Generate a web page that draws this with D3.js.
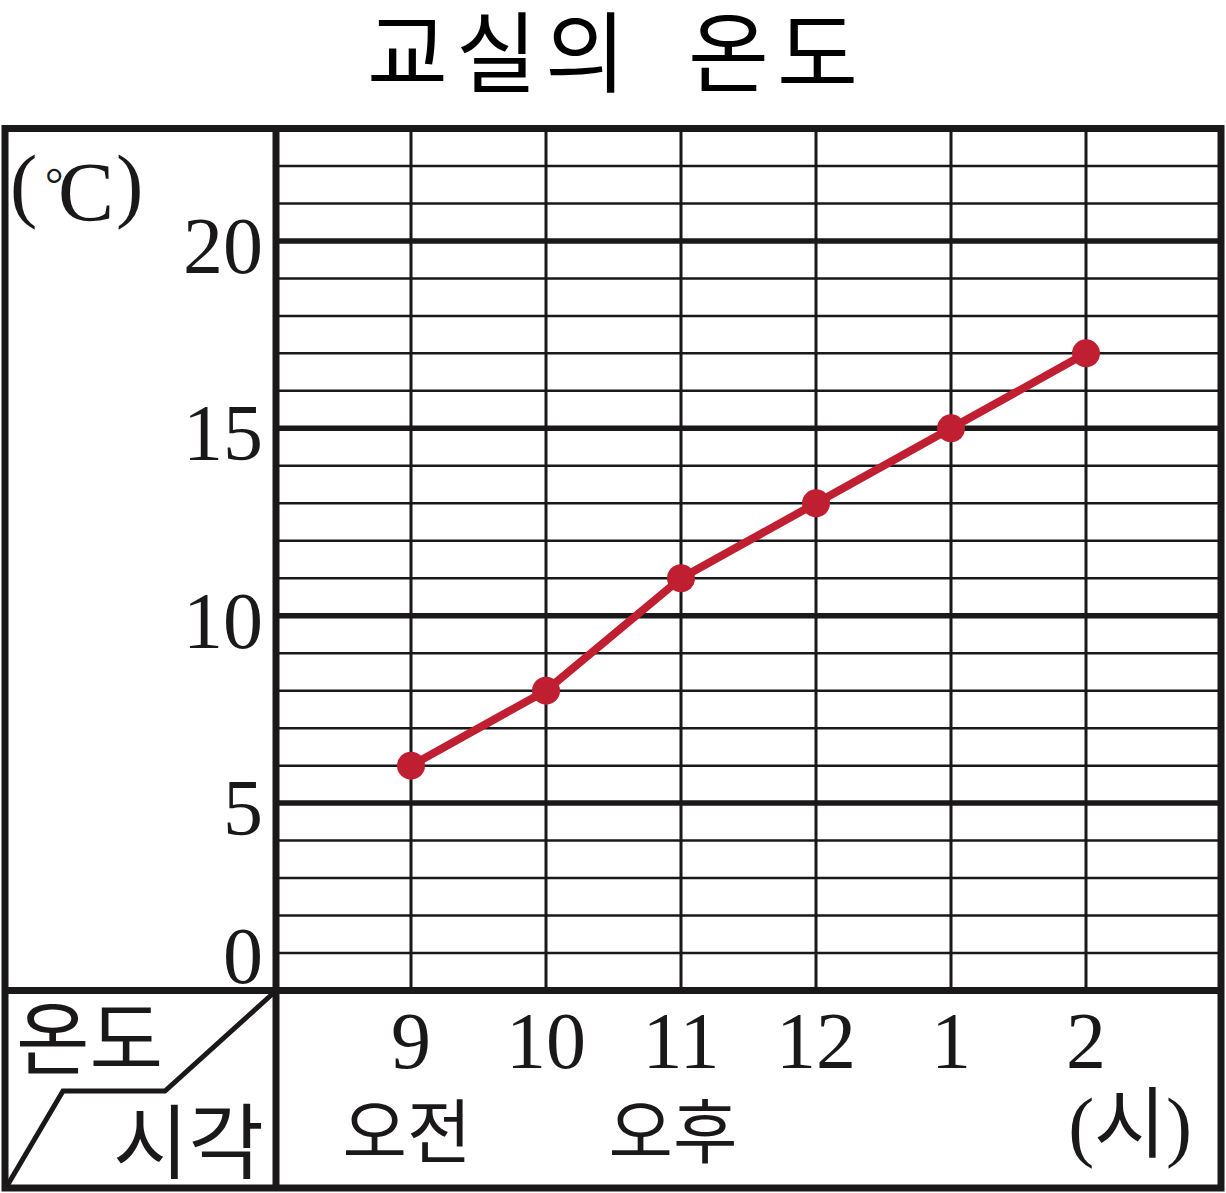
<!DOCTYPE html>
<html>
<head>
<meta charset="utf-8">
<script src="https://cdn.jsdelivr.net/npm/d3@7"></script>
<style>
  html, body { margin: 0; padding: 0; background: #fff; }
  svg { display: block; }
</style>
</head>
<body>
<svg id="chart" width="1226" height="1193"></svg>
<script>
// ---- data ----
const titleWords = ["교실의", "온도"];
const hours = ["9", "10", "11", "12", "1", "2"];
const temps = [6, 8, 11, 13, 15, 17];
const yTicks = [0, 5, 10, 15, 20];
const xUnit = "(시)";
const periodLabels = [
  { label: "오전", at: "9" },
  { label: "오후", at: "11" }
];
const cornerTop = "온도";
const cornerBottom = "시각";

// ---- layout ----
const box = { left: 5, right: 1221, top: 128.5, bottom: 1188 };
const divX = 276, divY = 990.5;
const svg = d3.select("#chart");
const ink = "#1a1818";
const red = "#c01f31";
const serif = "'Liberation Serif', 'DejaVu Serif', serif";
const kr = "'Noto Sans CJK KR', 'Noto Sans CJK SC', sans-serif";

const x = d3.scalePoint().domain(hours).range([411, 1086]);
const y = d3.scaleLinear().domain([0, 23]).range([divY, box.top]);

// horizontal grid lines
const hLines = d3.range(1, 23);
svg.append("g").selectAll("line").data(hLines).join("line")
  .attr("x1", divX).attr("x2", box.right)
  .attr("y1", d => y(d)).attr("y2", d => y(d))
  .attr("stroke", ink)
  .attr("stroke-width", d => d % 5 === 0 ? 5.5 : 2.5);

// vertical grid lines
svg.append("g").selectAll("line").data(hours).join("line")
  .attr("x1", d => x(d)).attr("x2", d => x(d))
  .attr("y1", box.top).attr("y2", divY)
  .attr("stroke", ink).attr("stroke-width", 3);

// frame
const frame = svg.append("g").attr("stroke", ink).attr("stroke-width", 7).attr("fill", "none");
frame.append("rect")
  .attr("x", box.left).attr("y", box.top)
  .attr("width", box.right - box.left).attr("height", box.bottom - box.top);
frame.append("line").attr("x1", divX).attr("x2", divX).attr("y1", box.top).attr("y2", box.bottom);
frame.append("line").attr("x1", box.left).attr("x2", box.right).attr("y1", divY).attr("y2", divY);

// corner diagonal
svg.append("path")
  .attr("d", d3.line()([[divX - 2, divY + 2], [165, 1091], [63, 1091], [7, 1186]]))
  .attr("fill", "none").attr("stroke", ink).attr("stroke-width", 5)
  .attr("stroke-linejoin", "miter");

// y tick labels
svg.append("g").selectAll("text").data(yTicks).join("text")
  .attr("x", 263)
  .attr("y", d => Math.min(y(d) + 32, 983))
  .attr("text-anchor", "end")
  .attr("font-family", serif).attr("font-size", 80).attr("fill", ink)
  .text(d => d);

// y unit  (℃) as one text element
const yu = svg.append("text").attr("font-family", serif).attr("fill", ink)
  .attr("x", 10).attr("y", 212).attr("font-size", 82);
yu.append("tspan").text("(");
yu.append("tspan").attr("x", 45).attr("y", 200).attr("font-size", 46).text("°");
yu.append("tspan").attr("x", 58).attr("y", 221).attr("font-size", 84).text("C");
yu.append("tspan").attr("x", 116).attr("y", 212).text(")");

// x tick labels
svg.append("g").selectAll("text").data(hours).join("text")
  .attr("x", d => x(d)).attr("y", 1068)
  .attr("text-anchor", "middle")
  .attr("font-family", serif).attr("font-size", 80).attr("fill", ink)
  .text(d => d);

// period labels
svg.append("g").selectAll("text").data(periodLabels).join("text")
  .attr("x", d => x(d.at) - (d.at === "9" ? 4 : 8)).attr("y", 1158)
  .attr("text-anchor", "middle")
  .attr("font-family", kr).attr("font-size", 70).attr("fill", ink)
  .text(d => d.label);

// x unit
svg.append("text")
  .attr("x", 1130).attr("y", 1152)
  .attr("text-anchor", "middle")
  .attr("font-family", serif + ", " + kr).attr("font-size", 78).attr("fill", ink)
  .text(xUnit);

// corner labels
svg.append("text").attr("x", 16).attr("y", 1068)
  .attr("font-family", kr).attr("font-size", 80).attr("fill", ink).text(cornerTop);
svg.append("text").attr("x", 264).attr("y", 1172).attr("text-anchor", "end")
  .attr("font-family", kr).attr("font-size", 82).attr("fill", ink).text(cornerBottom);

// title
svg.append("text").attr("x", 367).attr("y", 85)
  .attr("font-family", kr).attr("font-size", 88).attr("fill", "#000")
  .attr("letter-spacing", 8)
  .text(titleWords[0]);
svg.append("text").attr("x", 866).attr("y", 85).attr("text-anchor", "end")
  .attr("font-family", kr).attr("font-size", 88).attr("fill", "#000")
  .attr("letter-spacing", 8)
  .text(titleWords[1]);

// data line
const pts = hours.map((h, i) => [x(h), y(temps[i])]);
svg.append("path")
  .attr("d", d3.line()(pts))
  .attr("fill", "none").attr("stroke", red).attr("stroke-width", 8)
  .attr("stroke-linejoin", "round");
svg.append("g").selectAll("circle").data(hours).join("circle")
  .attr("cx", d => x(d)).attr("cy", (d, i) => y(temps[i]))
  .attr("r", 14).attr("fill", red);
</script>
</body>
</html>
